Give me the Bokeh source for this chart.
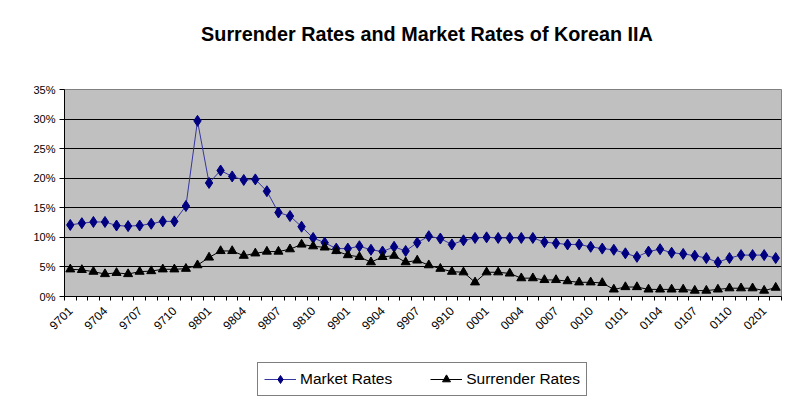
import math
from bokeh.plotting import figure
from bokeh.layouts import column
from bokeh.models import (Range1d, FixedTicker, PrintfTickFormatter, Legend,
                          LegendItem, Label)
from bokeh.embed import file_html
from bokeh.resources import INLINE

# Monthly periods (YYMM), 9701 .. 0202
months = ["9701", "9702", "9703", "9704", "9705", "9706", "9707", "9708", "9709", "9710", "9711", "9712",
          "9801", "9802", "9803", "9804", "9805", "9806", "9807", "9808", "9809", "9810", "9811", "9812",
          "9901", "9902", "9903", "9904", "9905", "9906", "9907", "9908", "9909", "9910", "9911", "9912",
          "0001", "0002", "0003", "0004", "0005", "0006", "0007", "0008", "0009", "0010", "0011", "0012",
          "0101", "0102", "0103", "0104", "0105", "0106", "0107", "0108", "0109", "0110", "0111", "0112",
          "0201", "0202"]

# Values in percent
market_rates = [12.1, 12.4, 12.6, 12.6, 12.0, 11.9, 12.0, 12.3, 12.7, 12.7, 15.3, 29.7,
                19.2, 21.3, 20.3, 19.7, 19.8, 17.8, 14.2, 13.6, 11.8, 9.9, 9.1, 8.1,
                8.1, 8.5, 7.9, 7.6, 8.4, 7.7, 9.1, 10.2, 9.8, 8.8, 9.5, 9.9,
                10.0, 9.9, 9.9, 9.9, 9.9, 9.2, 9.0, 8.8, 8.8, 8.4, 8.1, 7.9,
                7.3, 6.7, 7.6, 8.0, 7.4, 7.2, 6.9, 6.5, 5.8, 6.5, 7.0, 7.0,
                7.0, 6.5]

surrender_rates = [4.6, 4.5, 4.2, 3.8, 4.0, 3.8, 4.2, 4.3, 4.6, 4.6, 4.7, 5.3,
                   6.6, 7.7, 7.7, 6.9, 7.3, 7.6, 7.6, 8.0, 8.8, 8.5, 8.3, 7.7,
                   7.0, 6.7, 5.8, 6.7, 6.9, 5.8, 6.1, 5.3, 4.7, 4.2, 4.1, 2.4,
                   4.1, 4.1, 3.9, 3.1, 3.1, 2.8, 2.8, 2.6, 2.4, 2.4, 2.3, 1.2,
                   1.6, 1.6, 1.2, 1.2, 1.2, 1.2, 1.0, 1.0, 1.2, 1.4, 1.4, 1.4,
                   1.0, 1.5]

tick_labels = ["9701", "9704", "9707", "9710", "9801", "9804", "9807", "9810", "9901", "9904",
               "9907", "9910", "0001", "0004", "0007", "0010", "0101", "0104", "0107", "0110", "0201"]
y_ticks = [0, 5, 10, 15, 20, 25, 30, 35]

x = list(range(len(months)))
tick_pos = [months.index(t) for t in tick_labels]

FONT = "Liberation Sans"
MARKET_LINE = "#3535A0"
MARKET_MARK = "#000080"
TITLE = "Surrender Rates and Market Rates of Korean IIA"


def blank_strip(height):
    f = figure(width=785, height=height, output_backend="svg", toolbar_location=None,
               x_range=Range1d(0, 1), y_range=Range1d(0, height),
               min_border_left=0, min_border_right=0, min_border_top=0, min_border_bottom=0)
    f.axis.visible = False
    f.grid.grid_line_color = None
    f.outline_line_color = None
    f.background_fill_color = "white"
    f.border_fill_color = "white"
    return f


# title strip
tf = blank_strip(79)
tf.add_layout(Label(x=0.5, y=46, text=TITLE, text_align="center", text_baseline="middle",
                    text_font=FONT, text_font_size="19.8px", text_font_style="bold",
                    text_color="black", x_offset=4))

# main chart
p = figure(width=785, height=267, output_backend="svg", toolbar_location=None, title=None,
           x_range=Range1d(-0.5, len(months) - 0.5), y_range=Range1d(0, 35),
           min_border_left=64, min_border_right=4, min_border_top=10, min_border_bottom=50)

p.background_fill_color = "#C0C0C0"
p.border_fill_color = "white"
p.outline_line_color = "#808080"
p.outline_line_width = 1

p.line(x, market_rates, line_color=MARKET_LINE, line_width=1)
p.scatter(x, market_rates, marker="diamond", size=11, color=MARKET_MARK)
p.line(x, surrender_rates, line_color="black", line_width=1)
p.scatter(x, surrender_rates, marker="triangle", size=9, color="black")

p.xaxis.ticker = FixedTicker(ticks=tick_pos,
                             minor_ticks=[i - 0.5 for i in range(len(months) + 1)])
p.xaxis.major_label_overrides = {i: months[i] for i in tick_pos}
p.xaxis.major_label_orientation = math.pi / 4
p.xaxis.major_tick_out = 0
p.xaxis.major_tick_in = 0
p.xaxis.minor_tick_out = 4
p.xaxis.minor_tick_in = 0
p.xaxis.minor_tick_line_color = "black"
p.xaxis.axis_line_color = "black"
p.xaxis.major_label_text_font = FONT
p.xaxis.major_label_text_font_size = "12px"
p.xaxis.major_label_text_color = "black"
p.xaxis.major_label_standoff = 8

p.yaxis.ticker = FixedTicker(ticks=y_ticks, minor_ticks=[])
p.yaxis.formatter = PrintfTickFormatter(format="%d%%")
p.yaxis.major_tick_out = 5
p.yaxis.major_tick_in = 0
p.yaxis.major_tick_line_color = "black"
p.yaxis.axis_line_color = "black"
p.yaxis.major_label_text_font = FONT
p.yaxis.major_label_text_font_size = "11px"
p.yaxis.major_label_text_color = "black"
p.yaxis.major_label_standoff = 4

p.xgrid.grid_line_color = None
p.ygrid.grid_line_color = "black"
p.ygrid.grid_line_width = 1

# legend strip beneath the chart (sample glyphs sit outside the visible range)
lg = blank_strip(54)
ml = lg.line([-5, -4], [-5, -4], line_color=MARKET_LINE, line_width=1)
ms = lg.scatter([-5], [-5], marker="diamond", size=11, color=MARKET_MARK)
sl = lg.line([-5, -4], [-5, -4], line_color="black", line_width=1)
ss = lg.scatter([-5], [-5], marker="triangle", size=9, color="black")

legend = Legend(items=[LegendItem(label="Market Rates", renderers=[ml, ms]),
                       LegendItem(label="Surrender Rates", renderers=[sl, ss])],
                orientation="horizontal", location=(193, 4))
legend.label_text_font = FONT
legend.label_text_font_size = "15.5px"
legend.label_text_color = "black"
legend.glyph_width = 32
legend.label_standoff = 4
legend.spacing = 38
legend.padding = 6
legend.margin = 0
legend.border_line_color = "black"
legend.border_line_width = 1
legend.background_fill_color = "white"
lg.add_layout(legend, "center")

layout = column(tf, p, lg, spacing=0)
open("out.html", "w").write(file_html(layout, INLINE))
